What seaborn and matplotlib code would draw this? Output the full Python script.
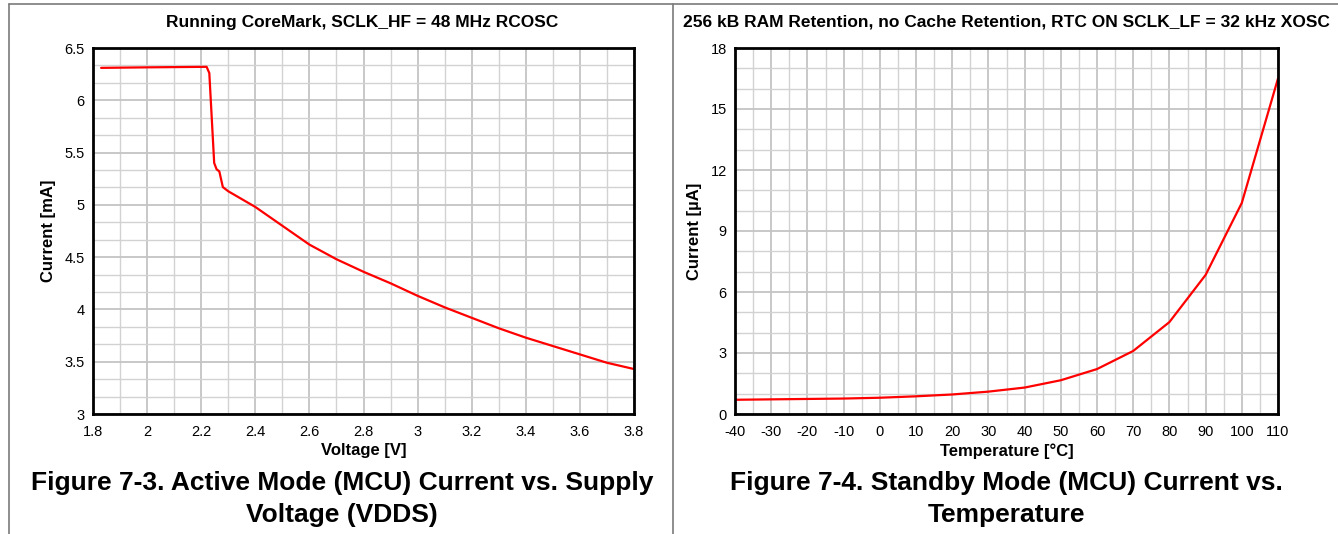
import numpy as np
import pandas as pd
import matplotlib
matplotlib.use("Agg")
import matplotlib.pyplot as plt
import matplotlib.ticker as mticker
from matplotlib.lines import Line2D
import seaborn as sns

# ---- data ----
voltage = [1.83, 2.0, 2.22, 2.23, 2.248, 2.257, 2.267, 2.28, 2.3, 2.4, 2.5, 2.6, 2.7,
           2.8, 2.9, 3.0, 3.1, 3.2, 3.3, 3.4, 3.5, 3.6, 3.7, 3.8]
active_ma = [6.31, 6.315, 6.32, 6.26, 5.40, 5.34, 5.32, 5.17, 5.13, 4.98, 4.80, 4.62, 4.48,
             4.36, 4.25, 4.13, 4.02, 3.92, 3.82, 3.73, 3.65, 3.57, 3.49, 3.43]

temperature = [-40, -30, -20, -10, 0, 10, 20, 30, 40, 50, 60, 70, 80, 90, 100, 110]
standby_ua = [0.70, 0.72, 0.74, 0.76, 0.80, 0.87, 0.96, 1.10, 1.30, 1.66, 2.21, 3.10,
              4.52, 6.84, 10.38, 16.5]

left_title = "Running CoreMark, SCLK_HF = 48 MHz RCOSC"
right_title = "256 kB RAM Retention, no Cache Retention, RTC ON SCLK_LF = 32 kHz XOSC"
left_caption = "Figure 7-3. Active Mode (MCU) Current vs. Supply\nVoltage (VDDS)"
right_caption = "Figure 7-4. Standby Mode (MCU) Current vs.\nTemperature"

sns.set_theme(style="white")
plt.rcParams['font.family'] = ['Liberation Sans', 'DejaVu Sans']
plt.rcParams['text.color'] = 'black'
plt.rcParams['axes.labelcolor'] = 'black'

W, H = 1338, 534
fig = plt.figure(figsize=(W / 100, H / 100), dpi=100)

def fx(px):
    return px / W

def fy(py):
    return 1 - py / H

axL = fig.add_axes([fx(93), fy(414), fx(634 - 93), (414 - 48) / H])
axR = fig.add_axes([fx(735), fy(414), fx(1278 - 735), (414 - 48) / H])

dfL = pd.DataFrame({"v": voltage, "i": active_ma})
dfR = pd.DataFrame({"t": temperature, "i": standby_ua})

sns.lineplot(data=dfL, x="v", y="i", ax=axL, color="#ff0000", linewidth=1.6, sort=False, zorder=5)
sns.lineplot(data=dfR, x="t", y="i", ax=axR, color="#ff0000", linewidth=1.6, sort=False, zorder=5)

def style(ax, xlim, ylim, xmaj, xminor, ymaj, yminor_n):
    ax.set_xlim(*xlim)
    ax.set_ylim(*ylim)
    ax.xaxis.set_major_locator(mticker.MultipleLocator(xmaj))
    ax.xaxis.set_minor_locator(mticker.MultipleLocator(xminor))
    ax.yaxis.set_major_locator(mticker.MultipleLocator(ymaj))
    ax.yaxis.set_minor_locator(mticker.FixedLocator(
        np.linspace(ylim[0], ylim[1], int(round((ylim[1] - ylim[0]) / ymaj)) * yminor_n + 1)))
    ax.grid(which="major", color="#c4c4c4", linewidth=1.3)
    ax.grid(which="minor", color="#d2d2d2", linewidth=1.0)
    ax.set_axisbelow(True)
    for s in ax.spines.values():
        s.set_color("black")
        s.set_linewidth(2.0)
        s.set_zorder(10)
    ax.tick_params(which="both", length=0, labelsize=10.5, colors="black")
    ax.tick_params(axis="x", pad=8)
    ax.tick_params(axis="y", pad=6)
    ax.set_facecolor("white")

style(axL, (1.8, 3.8), (3, 6.5), 0.2, 0.1, 0.5, 3)
style(axR, (-40, 110), (0, 18), 10, 5, 3, 3)

fmt = mticker.FuncFormatter(lambda v, p: f"{v:g}")
axL.xaxis.set_major_formatter(fmt)
axL.yaxis.set_major_formatter(fmt)
axR.xaxis.set_major_formatter(fmt)
axR.yaxis.set_major_formatter(fmt)

axL.set_xlabel("Voltage [V]", fontsize=12, fontweight="bold", labelpad=3)
axL.set_ylabel("Current [mA]", fontsize=12, fontweight="bold", labelpad=6)
axR.set_xlabel("Temperature [°C]", fontsize=12, fontweight="bold", labelpad=3)
axR.set_ylabel("Current [µA]", fontsize=12, fontweight="bold", labelpad=6)

fig.text(fx(362), fy(22), left_title, ha="center", va="center", fontsize=12.5, fontweight="bold")
fig.text(fx(1006), fy(22), right_title, ha="center", va="center", fontsize=12.5, fontweight="bold")

fig.text(fx(342), fy(499), left_caption, ha="center", va="center", fontsize=19,
         fontweight="bold", linespacing=1.4)
fig.text(fx(1006), fy(499), right_caption, ha="center", va="center", fontsize=19,
         fontweight="bold", linespacing=1.4)

# frame lines
for xs, ys in [((fx(9), 1.0), (fy(4), fy(4))),
               ((fx(9), fx(9)), (fy(4), 0.0)),
               ((fx(673), fx(673)), (fy(4), 0.0))]:
    fig.add_artist(Line2D(xs, ys, transform=fig.transFigure, color="#7a7a7a", linewidth=1.2))

fig.savefig("out.png", dpi=100, facecolor="white")
